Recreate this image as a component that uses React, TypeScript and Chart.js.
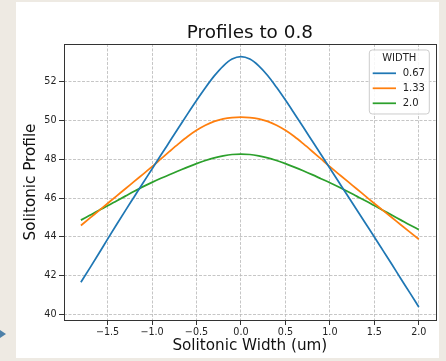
import React, { useEffect, useRef } from "react";
import { Chart, registerables } from "chart.js";

Chart.register(...registerables);

const xValues = [
  -1.8, -1.7, -1.6, -1.5, -1.4, -1.3, -1.2, -1.1, -1.0, -0.9, -0.8, -0.7, -0.6,
  -0.5, -0.4, -0.3, -0.2, -0.1, 0.0, 0.1, 0.2, 0.3, 0.4, 0.5, 0.6, 0.7, 0.8,
  0.9, 1.0, 1.1, 1.2, 1.3, 1.4, 1.5, 1.6, 1.7, 1.8, 1.9, 2.0,
];

const width067 = [
  41.65, 42.38, 43.12, 43.88, 44.62, 45.35, 46.07, 46.79, 47.5, 48.22, 48.93,
  49.64, 50.35, 51.04, 51.7, 52.31, 52.82, 53.18, 53.31, 53.18, 52.83, 52.33,
  51.72, 51.06, 50.37, 49.67, 48.96, 48.25, 47.54, 46.83, 46.12, 45.41, 44.7,
  43.99, 43.27, 42.55, 41.82, 41.1, 40.37,
];

const width133 = [
  44.58, 44.96, 45.34, 45.72, 46.1, 46.48, 46.86, 47.24, 47.62, 48.02, 48.42,
  48.81, 49.18, 49.5, 49.76, 49.96, 50.09, 50.16, 50.18, 50.16, 50.09, 49.96,
  49.76, 49.5, 49.18, 48.81, 48.42, 48.02, 47.62, 47.24, 46.86, 46.48, 46.1,
  45.72, 45.35, 44.98, 44.61, 44.24, 43.87,
];

const width20 = [
  44.86, 45.11, 45.36, 45.6, 45.85, 46.1, 46.35, 46.59, 46.81, 47.02, 47.22,
  47.41, 47.6, 47.78, 47.94, 48.08, 48.18, 48.25, 48.27, 48.25, 48.18, 48.08,
  47.94, 47.78, 47.6, 47.41, 47.21, 47.0, 46.79, 46.57, 46.34, 46.1, 45.86,
  45.61, 45.36, 45.11, 44.86, 44.61, 44.37,
];

const seriesLabels = ["0.67", "1.33", "2.0"];
const seriesColors = ["#1f77b4", "#ff7f0e", "#2ca02c"];

const xTickValues = [-1.5, -1.0, -0.5, 0.0, 0.5, 1.0, 1.5, 2.0];
const xTickLabels = ["\u22121.5", "\u22121.0", "\u22120.5", "0.0", "0.5", "1.0", "1.5", "2.0"];
const yTickValues = [40, 42, 44, 46, 48, 50, 52];
const yTickLabels = ["40", "42", "44", "46", "48", "50", "52"];

const titleText = "Profiles to 0.8";
const xTitleText = "Solitonic Width (um)";
const yTitleText = "Solitonic Profile";
const legendTitle = "WIDTH";

const FONT = "'DejaVu Sans', sans-serif";

const framePlugin = {
  id: "frameAndLegend",
  afterDatasetsDraw(chart: any) {
    const { ctx, chartArea: a } = chart;
    ctx.save();
    // axes box
    ctx.strokeStyle = "#333";
    ctx.lineWidth = 1;
    ctx.setLineDash([]);
    ctx.strokeRect(Math.round(a.left) + 0.5, Math.round(a.top) + 0.5, Math.round(a.right - a.left), Math.round(a.bottom - a.top));

    // legend
    const bw = 60;
    const bh = 64;
    const bx = a.right - 6.4 - bw;
    const by = a.top + 6;
    const r = 3;
    ctx.beginPath();
    ctx.moveTo(bx + r, by);
    ctx.lineTo(bx + bw - r, by);
    ctx.quadraticCurveTo(bx + bw, by, bx + bw, by + r);
    ctx.lineTo(bx + bw, by + bh - r);
    ctx.quadraticCurveTo(bx + bw, by + bh, bx + bw - r, by + bh);
    ctx.lineTo(bx + r, by + bh);
    ctx.quadraticCurveTo(bx, by + bh, bx, by + bh - r);
    ctx.lineTo(bx, by + r);
    ctx.quadraticCurveTo(bx, by, bx + r, by);
    ctx.closePath();
    ctx.fillStyle = "rgba(255,255,255,0.85)";
    ctx.fill();
    ctx.strokeStyle = "#cccccc";
    ctx.lineWidth = 1;
    ctx.stroke();

    ctx.font = `10px ${FONT}`;
    ctx.fillStyle = "#222";
    ctx.textBaseline = "middle";
    ctx.textAlign = "center";
    ctx.fillText(legendTitle, bx + bw / 2, by + 8.5);
    ctx.textAlign = "left";
    chart.data.datasets.forEach((ds: any, i: number) => {
      const yy = by + 23.3 + i * 15;
      ctx.strokeStyle = ds.borderColor;
      ctx.lineWidth = 1.75;
      ctx.beginPath();
      ctx.moveTo(bx + 3.4, yy);
      ctx.lineTo(bx + 26.7, yy);
      ctx.stroke();
      ctx.fillStyle = "#222";
      ctx.fillText(ds.label, bx + 33.4, yy);
    });
    ctx.restore();
  },
};

export default function App() {
  const canvasRef = useRef<HTMLCanvasElement | null>(null);

  useEffect(() => {
    if (!canvasRef.current) return;
    const series = [width067, width133, width20];
    const chart = new Chart(canvasRef.current, {
      type: "line",
      data: {
        datasets: series.map((vals, i) => ({
          label: seriesLabels[i],
          data: xValues.map((x, j) => ({ x, y: vals[j] })),
          borderColor: seriesColors[i],
          backgroundColor: seriesColors[i],
          borderWidth: 1.75,
          pointRadius: 0,
          fill: false,
          cubicInterpolationMode: "monotone" as const,
        })),
      },
      options: {
        responsive: false,
        animation: false,
        events: [],
        layout: { padding: { left: 0, right: 3.3, top: 0, bottom: 0 } },
        plugins: {
          legend: { display: false },
          tooltip: { enabled: false },
          title: {
            display: true,
            text: titleText,
            fullSize: false,
            color: "#111",
            font: { family: FONT, size: 18.4, weight: "normal" },
            padding: { top: 19.7, bottom: 0.2 },
          },
        },
        scales: {
          x: {
            type: "linear",
            min: -1.99,
            max: 2.19,
            afterBuildTicks: (s: any) => {
              s.ticks = xTickValues.map((v) => ({ value: v }));
            },
            afterFit: (s: any) => {
              s.height = 38;
            },
            ticks: {
              color: "#222",
              padding: 1.5,
              maxRotation: 0,
              autoSkip: false,
              font: { family: FONT, size: 9.6 },
              callback: (v: any) => xTickLabels[xTickValues.indexOf(Number(v))] ?? "",
            },
            grid: {
              color: "#b8b8b8",
              lineWidth: 0.8,
              tickLength: 5,
              tickColor: "#333",
              tickWidth: 1,
              tickBorderDash: [],
            },
            border: { display: false, dash: [3, 1.5] },
            title: {
              display: true,
              text: xTitleText,
              color: "#111",
              font: { family: FONT, size: 15.2 },
              padding: { top: 0, bottom: 2.5 },
            },
          },
          y: {
            type: "linear",
            min: 39.7,
            max: 53.96,
            afterBuildTicks: (s: any) => {
              s.ticks = yTickValues.map((v) => ({ value: v }));
            },
            afterFit: (s: any) => {
              s.width = 48;
            },
            ticks: {
              color: "#222",
              padding: 2.5,
              autoSkip: false,
              font: { family: FONT, size: 9.6 },
              callback: (v: any) => yTickLabels[yTickValues.indexOf(Number(v))] ?? "",
            },
            grid: {
              color: "#b8b8b8",
              lineWidth: 0.8,
              tickLength: 5,
              tickColor: "#333",
              tickWidth: 1,
              tickBorderDash: [],
            },
            border: { display: false, dash: [3, 1.5] },
            title: {
              display: true,
              text: yTitleText,
              color: "#111",
              font: { family: FONT, size: 15.2 },
              padding: { top: 5.5, bottom: 0 },
            },
          },
        },
      } as any,
      plugins: [framePlugin],
    });
    return () => chart.destroy();
  }, []);

  return (
    <div
      style={{
        position: "fixed",
        left: 0,
        top: 0,
        width: 446,
        height: 361,
        background: "#eeeae3",
        overflow: "hidden",
      }}
    >
      <div
        style={{
          position: "absolute",
          left: 0,
          top: 330,
          width: 0,
          height: 0,
          borderTop: "4.5px solid transparent",
          borderBottom: "4.5px solid transparent",
          borderLeft: "6px solid #4d80a8",
        }}
      />
      <div
        style={{
          position: "absolute",
          left: 16,
          top: 2,
          width: 423,
          height: 356,
          background: "#ffffff",
        }}
      >
        <canvas ref={canvasRef} width={423} height={356} style={{ display: "block", width: 423, height: 356 }} />
      </div>
    </div>
  );
}
